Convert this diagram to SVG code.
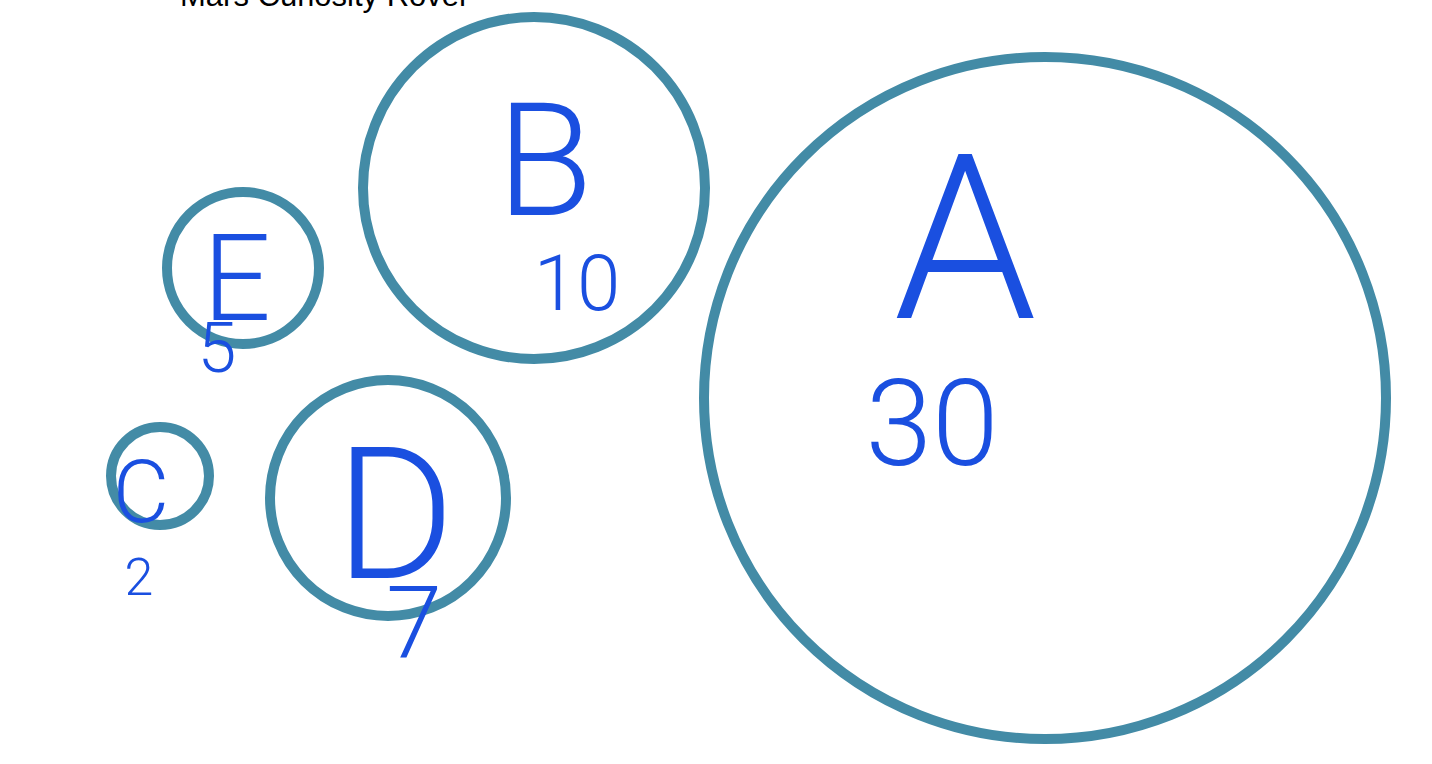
<svg xmlns="http://www.w3.org/2000/svg" width="1432" height="764" viewBox="0 0 1432 764">
<style>
.c{fill:none;stroke:#438ba6;stroke-width:10}
.h{font-family:Roboto,"Liberation Sans",sans-serif;font-weight:300;fill:#1a4fe0;text-anchor:middle}
.t{font-family:"Liberation Sans",Arial,sans-serif;font-size:31px;fill:#000}
</style>
<rect width="1432" height="764" fill="#fff"/>
<text class="t" x="180" y="6">Mars Curiosity Rover</text>
<g id="nodeA"><circle class="c" cx="1045" cy="398" r="341"/><text class="h" x="965" y="318" font-size="230">A</text><text class="h" x="932" y="465" font-size="120">30</text></g>
<g id="nodeB"><circle class="c" cx="534" cy="188" r="171"/><text class="h" x="545" y="215" font-size="157">B</text><text class="h" x="577" y="310" font-size="78">10</text></g>
<g id="nodeE"><circle class="c" cx="243" cy="268" r="76"/><text class="h" x="237" y="320" font-size="120">E</text><text class="h" x="217" y="372" font-size="70">5</text></g>
<g id="nodeC"><circle class="c" cx="160" cy="476" r="49"/><text class="h" x="141" y="522" font-size="87">C</text><text class="h" x="139" y="595" font-size="52">2</text></g>
<g id="nodeD"><circle class="c" cx="388" cy="498" r="118"/><text class="h" x="395" y="578" font-size="183">D</text><text class="h" x="414" y="657" font-size="101">7</text></g>
<g id="connectors"/>
</svg>
